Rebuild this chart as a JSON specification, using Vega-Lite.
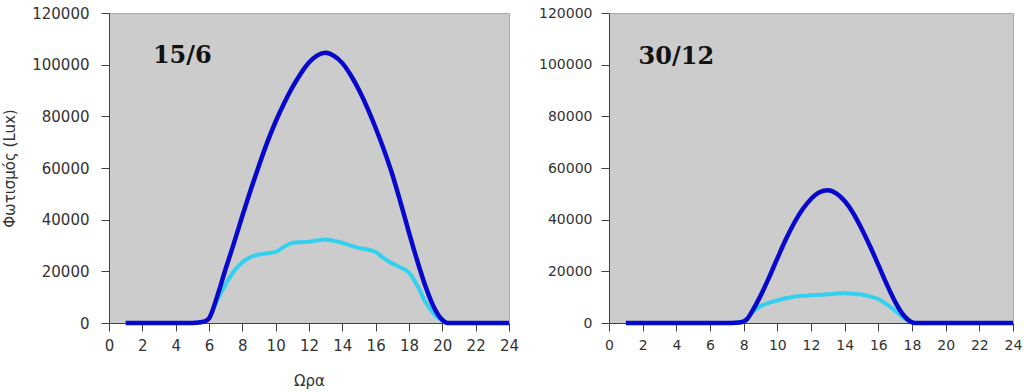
{
  "$schema": "https://vega.github.io/schema/vega-lite/v6.json",
  "background": "white",
  "padding": {"left": 2, "top": 5, "right": 0, "bottom": 0},
  "bounds": "flush",
  "spacing": 100,
  "config": {
    "view": {"fill": "#cccccc", "stroke": "#a8a8a8", "strokeWidth": 1},
    "axis": {
      "grid": false,
      "domainColor": "#404040",
      "tickColor": "#404040",
      "tickSize": 8,
      "labelFont": "DejaVu Sans",
      "labelColor": "#333333",
      "titleFont": "DejaVu Sans",
      "titleFontWeight": "normal",
      "titleColor": "#333333"
    }
  },
  "datasets": {
    "curves": [
      {"panel": "L", "series": "A", "hour": 1, "lux": 0},
      {"panel": "L", "series": "A", "hour": 2, "lux": 0},
      {"panel": "L", "series": "A", "hour": 3, "lux": 0},
      {"panel": "L", "series": "A", "hour": 4, "lux": 0},
      {"panel": "L", "series": "A", "hour": 5, "lux": 0},
      {"panel": "L", "series": "A", "hour": 5.5, "lux": 300},
      {"panel": "L", "series": "A", "hour": 5.8, "lux": 800},
      {"panel": "L", "series": "A", "hour": 6, "lux": 1800},
      {"panel": "L", "series": "A", "hour": 6.5, "lux": 10500},
      {"panel": "L", "series": "A", "hour": 7, "lux": 21000},
      {"panel": "L", "series": "A", "hour": 7.5, "lux": 31000},
      {"panel": "L", "series": "A", "hour": 8, "lux": 41500},
      {"panel": "L", "series": "A", "hour": 8.5, "lux": 51500},
      {"panel": "L", "series": "A", "hour": 9, "lux": 61000},
      {"panel": "L", "series": "A", "hour": 9.5, "lux": 70000},
      {"panel": "L", "series": "A", "hour": 10, "lux": 78000},
      {"panel": "L", "series": "A", "hour": 10.5, "lux": 85000},
      {"panel": "L", "series": "A", "hour": 11, "lux": 91200},
      {"panel": "L", "series": "A", "hour": 11.5, "lux": 96500},
      {"panel": "L", "series": "A", "hour": 12, "lux": 100800},
      {"panel": "L", "series": "A", "hour": 12.5, "lux": 103600},
      {"panel": "L", "series": "A", "hour": 13, "lux": 104600},
      {"panel": "L", "series": "A", "hour": 13.5, "lux": 103400},
      {"panel": "L", "series": "A", "hour": 14, "lux": 100600},
      {"panel": "L", "series": "A", "hour": 14.5, "lux": 96000},
      {"panel": "L", "series": "A", "hour": 15, "lux": 90200},
      {"panel": "L", "series": "A", "hour": 15.5, "lux": 83300},
      {"panel": "L", "series": "A", "hour": 16, "lux": 75500},
      {"panel": "L", "series": "A", "hour": 16.5, "lux": 67000},
      {"panel": "L", "series": "A", "hour": 17, "lux": 57500},
      {"panel": "L", "series": "A", "hour": 17.5, "lux": 46500},
      {"panel": "L", "series": "A", "hour": 18, "lux": 35000},
      {"panel": "L", "series": "A", "hour": 18.5, "lux": 24000},
      {"panel": "L", "series": "A", "hour": 19, "lux": 14000},
      {"panel": "L", "series": "A", "hour": 19.5, "lux": 6000},
      {"panel": "L", "series": "A", "hour": 20, "lux": 1200},
      {"panel": "L", "series": "A", "hour": 20.3, "lux": 0},
      {"panel": "L", "series": "A", "hour": 21, "lux": 0},
      {"panel": "L", "series": "A", "hour": 22, "lux": 0},
      {"panel": "L", "series": "A", "hour": 23, "lux": 0},
      {"panel": "L", "series": "A", "hour": 24, "lux": 0},
      {"panel": "L", "series": "B", "hour": 1, "lux": 0},
      {"panel": "L", "series": "B", "hour": 2, "lux": 0},
      {"panel": "L", "series": "B", "hour": 3, "lux": 0},
      {"panel": "L", "series": "B", "hour": 4, "lux": 0},
      {"panel": "L", "series": "B", "hour": 5, "lux": 0},
      {"panel": "L", "series": "B", "hour": 5.5, "lux": 300},
      {"panel": "L", "series": "B", "hour": 5.8, "lux": 800},
      {"panel": "L", "series": "B", "hour": 6, "lux": 1800},
      {"panel": "L", "series": "B", "hour": 6.5, "lux": 9000},
      {"panel": "L", "series": "B", "hour": 7, "lux": 15000},
      {"panel": "L", "series": "B", "hour": 7.5, "lux": 20000},
      {"panel": "L", "series": "B", "hour": 8, "lux": 23500},
      {"panel": "L", "series": "B", "hour": 8.5, "lux": 25500},
      {"panel": "L", "series": "B", "hour": 9, "lux": 26500},
      {"panel": "L", "series": "B", "hour": 9.5, "lux": 27000},
      {"panel": "L", "series": "B", "hour": 10, "lux": 27500},
      {"panel": "L", "series": "B", "hour": 10.5, "lux": 29500},
      {"panel": "L", "series": "B", "hour": 11, "lux": 31000},
      {"panel": "L", "series": "B", "hour": 11.5, "lux": 31300},
      {"panel": "L", "series": "B", "hour": 12, "lux": 31500},
      {"panel": "L", "series": "B", "hour": 12.5, "lux": 32000},
      {"panel": "L", "series": "B", "hour": 13, "lux": 32300},
      {"panel": "L", "series": "B", "hour": 13.5, "lux": 31800},
      {"panel": "L", "series": "B", "hour": 14, "lux": 31000},
      {"panel": "L", "series": "B", "hour": 14.5, "lux": 30000},
      {"panel": "L", "series": "B", "hour": 15, "lux": 29000},
      {"panel": "L", "series": "B", "hour": 15.5, "lux": 28500},
      {"panel": "L", "series": "B", "hour": 16, "lux": 27500},
      {"panel": "L", "series": "B", "hour": 16.5, "lux": 25000},
      {"panel": "L", "series": "B", "hour": 17, "lux": 23000},
      {"panel": "L", "series": "B", "hour": 17.5, "lux": 21500},
      {"panel": "L", "series": "B", "hour": 18, "lux": 19500},
      {"panel": "L", "series": "B", "hour": 18.5, "lux": 14500},
      {"panel": "L", "series": "B", "hour": 19, "lux": 8000},
      {"panel": "L", "series": "B", "hour": 19.5, "lux": 3500},
      {"panel": "L", "series": "B", "hour": 20, "lux": 800},
      {"panel": "L", "series": "B", "hour": 20.3, "lux": 0},
      {"panel": "L", "series": "B", "hour": 21, "lux": 0},
      {"panel": "L", "series": "B", "hour": 22, "lux": 0},
      {"panel": "L", "series": "B", "hour": 23, "lux": 0},
      {"panel": "L", "series": "B", "hour": 24, "lux": 0},
      {"panel": "R", "series": "A", "hour": 1, "lux": 0},
      {"panel": "R", "series": "A", "hour": 2, "lux": 0},
      {"panel": "R", "series": "A", "hour": 3, "lux": 0},
      {"panel": "R", "series": "A", "hour": 4, "lux": 0},
      {"panel": "R", "series": "A", "hour": 5, "lux": 0},
      {"panel": "R", "series": "A", "hour": 6, "lux": 0},
      {"panel": "R", "series": "A", "hour": 7, "lux": 0},
      {"panel": "R", "series": "A", "hour": 7.5, "lux": 100},
      {"panel": "R", "series": "A", "hour": 7.9, "lux": 400},
      {"panel": "R", "series": "A", "hour": 8.2, "lux": 1500},
      {"panel": "R", "series": "A", "hour": 8.5, "lux": 4500},
      {"panel": "R", "series": "A", "hour": 9, "lux": 10500},
      {"panel": "R", "series": "A", "hour": 9.5, "lux": 17500},
      {"panel": "R", "series": "A", "hour": 10, "lux": 25000},
      {"panel": "R", "series": "A", "hour": 10.5, "lux": 32300},
      {"panel": "R", "series": "A", "hour": 11, "lux": 38700},
      {"panel": "R", "series": "A", "hour": 11.5, "lux": 44000},
      {"panel": "R", "series": "A", "hour": 12, "lux": 48000},
      {"panel": "R", "series": "A", "hour": 12.5, "lux": 50600},
      {"panel": "R", "series": "A", "hour": 13, "lux": 51400},
      {"panel": "R", "series": "A", "hour": 13.5, "lux": 50200},
      {"panel": "R", "series": "A", "hour": 14, "lux": 47200},
      {"panel": "R", "series": "A", "hour": 14.5, "lux": 42600},
      {"panel": "R", "series": "A", "hour": 15, "lux": 36600},
      {"panel": "R", "series": "A", "hour": 15.5, "lux": 29800},
      {"panel": "R", "series": "A", "hour": 16, "lux": 22500},
      {"panel": "R", "series": "A", "hour": 16.5, "lux": 15000},
      {"panel": "R", "series": "A", "hour": 17, "lux": 8200},
      {"panel": "R", "series": "A", "hour": 17.5, "lux": 3000},
      {"panel": "R", "series": "A", "hour": 17.9, "lux": 600},
      {"panel": "R", "series": "A", "hour": 18.2, "lux": 0},
      {"panel": "R", "series": "A", "hour": 19, "lux": 0},
      {"panel": "R", "series": "A", "hour": 20, "lux": 0},
      {"panel": "R", "series": "A", "hour": 21, "lux": 0},
      {"panel": "R", "series": "A", "hour": 22, "lux": 0},
      {"panel": "R", "series": "A", "hour": 23, "lux": 0},
      {"panel": "R", "series": "A", "hour": 24, "lux": 0},
      {"panel": "R", "series": "B", "hour": 1, "lux": 0},
      {"panel": "R", "series": "B", "hour": 2, "lux": 0},
      {"panel": "R", "series": "B", "hour": 3, "lux": 0},
      {"panel": "R", "series": "B", "hour": 4, "lux": 0},
      {"panel": "R", "series": "B", "hour": 5, "lux": 0},
      {"panel": "R", "series": "B", "hour": 6, "lux": 0},
      {"panel": "R", "series": "B", "hour": 7, "lux": 0},
      {"panel": "R", "series": "B", "hour": 7.5, "lux": 100},
      {"panel": "R", "series": "B", "hour": 7.9, "lux": 400},
      {"panel": "R", "series": "B", "hour": 8.2, "lux": 1500},
      {"panel": "R", "series": "B", "hour": 8.5, "lux": 4000},
      {"panel": "R", "series": "B", "hour": 9, "lux": 6500},
      {"panel": "R", "series": "B", "hour": 9.5, "lux": 7800},
      {"panel": "R", "series": "B", "hour": 10, "lux": 8700},
      {"panel": "R", "series": "B", "hour": 10.5, "lux": 9600},
      {"panel": "R", "series": "B", "hour": 11, "lux": 10200},
      {"panel": "R", "series": "B", "hour": 11.5, "lux": 10500},
      {"panel": "R", "series": "B", "hour": 12, "lux": 10700},
      {"panel": "R", "series": "B", "hour": 12.5, "lux": 10900},
      {"panel": "R", "series": "B", "hour": 13, "lux": 11100},
      {"panel": "R", "series": "B", "hour": 13.5, "lux": 11400},
      {"panel": "R", "series": "B", "hour": 14, "lux": 11500},
      {"panel": "R", "series": "B", "hour": 14.5, "lux": 11300},
      {"panel": "R", "series": "B", "hour": 15, "lux": 11000},
      {"panel": "R", "series": "B", "hour": 15.5, "lux": 10300},
      {"panel": "R", "series": "B", "hour": 16, "lux": 9300},
      {"panel": "R", "series": "B", "hour": 16.5, "lux": 7200},
      {"panel": "R", "series": "B", "hour": 17, "lux": 4800},
      {"panel": "R", "series": "B", "hour": 17.5, "lux": 2000},
      {"panel": "R", "series": "B", "hour": 17.9, "lux": 500},
      {"panel": "R", "series": "B", "hour": 18.2, "lux": 0},
      {"panel": "R", "series": "B", "hour": 19, "lux": 0},
      {"panel": "R", "series": "B", "hour": 20, "lux": 0},
      {"panel": "R", "series": "B", "hour": 21, "lux": 0},
      {"panel": "R", "series": "B", "hour": 22, "lux": 0},
      {"panel": "R", "series": "B", "hour": 23, "lux": 0},
      {"panel": "R", "series": "B", "hour": 24, "lux": 0}
    ],
    "labels": [
      {"panel": "L", "hour": 4.4, "lux": 103400, "text": "15/6"},
      {"panel": "R", "hour": 4.0, "lux": 103000, "text": "30/12"}
    ]
  },
  "hconcat": [
    {
      "width": 400,
      "height": 310,
      "encoding": {
        "x": {"field": "hour", "type": "quantitative", "scale": {"domain": [0, 24], "nice": false},
          "axis": {"title": "Ωρα", "values": [0,2,4,6,8,10,12,14,16,18,20,22,24], "labelFontSize": 15, "titleFontSize": 15, "labelPadding": 7, "titlePadding": 20, "labelFlush": false}},
        "y": {"field": "lux", "type": "quantitative", "scale": {"domain": [0, 120000], "nice": false},
          "axis": {"title": "Φωτισμός (Lux)", "values": [0,20000,40000,60000,80000,100000,120000], "format": "d", "labelFontSize": 15, "titleFontSize": 15, "labelPadding": 12, "titlePadding": 14}}
      },
      "layer": [
        {"data": {"name": "curves"}, "transform": [{"filter": "datum.panel === 'L' && datum.series === 'B'"}],
          "mark": {"type": "line", "interpolate": "monotone", "strokeWidth": 4, "color": "#33d0f0"}},
        {"data": {"name": "curves"}, "transform": [{"filter": "datum.panel === 'L' && datum.series === 'A'"}],
          "mark": {"type": "line", "interpolate": "monotone", "strokeWidth": 4.5, "color": "#0808cc"}},
        {"data": {"name": "labels"}, "transform": [{"filter": "datum.panel === 'L'"}],
          "mark": {"type": "text", "font": "DejaVu Serif", "fontWeight": "bold", "fontSize": 24, "color": "#111111", "align": "center", "baseline": "middle"},
          "encoding": {"text": {"field": "text"}}}
      ]
    },
    {
      "width": 404,
      "height": 310,
      "encoding": {
        "x": {"field": "hour", "type": "quantitative", "scale": {"domain": [0, 24], "nice": false},
          "axis": {"title": null, "values": [0,2,4,6,8,10,12,14,16,18,20,22,24], "labelFontSize": 14, "labelPadding": 7, "labelFlush": false}},
        "y": {"field": "lux", "type": "quantitative", "scale": {"domain": [0, 120000], "nice": false},
          "axis": {"title": null, "values": [0,20000,40000,60000,80000,100000,120000], "format": "d", "labelFontSize": 14, "labelPadding": 9}}
      },
      "layer": [
        {"data": {"name": "curves"}, "transform": [{"filter": "datum.panel === 'R' && datum.series === 'B'"}],
          "mark": {"type": "line", "interpolate": "monotone", "strokeWidth": 4, "color": "#33d0f0"}},
        {"data": {"name": "curves"}, "transform": [{"filter": "datum.panel === 'R' && datum.series === 'A'"}],
          "mark": {"type": "line", "interpolate": "monotone", "strokeWidth": 4.5, "color": "#0808cc"}},
        {"data": {"name": "labels"}, "transform": [{"filter": "datum.panel === 'R'"}],
          "mark": {"type": "text", "font": "DejaVu Serif", "fontWeight": "bold", "fontSize": 24, "color": "#111111", "align": "center", "baseline": "middle"},
          "encoding": {"text": {"field": "text"}}}
      ]
    }
  ]
}
